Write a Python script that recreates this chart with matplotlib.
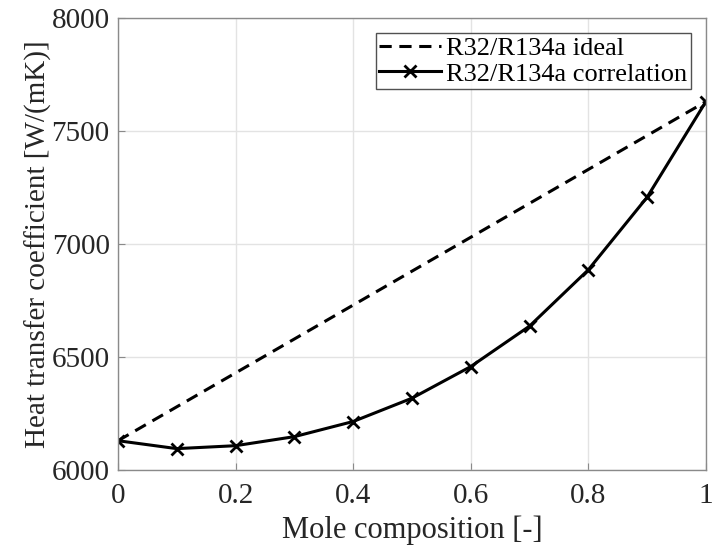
import numpy as np
import matplotlib.pyplot as plt

# mole fraction of R32
mole_frac = [0.0, 0.1, 0.2, 0.3, 0.4, 0.5, 0.6, 0.7, 0.8, 0.9, 1.0]

# heat transfer coefficient [W/(mK)]
htc_corr = [6130, 6095, 6108, 6148, 6215, 6318, 6458, 6637, 6886, 7207, 7630]
htc_ideal_ends = [6130, 7630]
ideal_x = [0.0, 1.0]

plt.rcParams['font.family'] = ['Liberation Serif', 'DejaVu Serif']

fig = plt.figure(figsize=(7.13, 5.46), dpi=100)
ax = fig.add_axes([0.1655, 0.139, 0.8245, 0.828])

ax.plot(ideal_x, htc_ideal_ends, '--', color='black', lw=2.2, dashes=(4, 2.5),
        label='R32/R134a ideal')
ax.plot(mole_frac, htc_corr, '-x', color='black', lw=2.2, ms=9, mew=2,
        label='R32/R134a correlation')

ax.set_xlim(0, 1)
ax.set_ylim(6000, 8000)
ax.set_xticks([0, 0.2, 0.4, 0.6, 0.8, 1])
ax.set_xticklabels(['0', '0.2', '0.4', '0.6', '0.8', '1'])
ax.set_yticks([6000, 6500, 7000, 7500, 8000])

ax.grid(True, color='#e3e3e3', lw=1)
ax.set_axisbelow(True)
for s in ax.spines.values():
    s.set_color('#8a8a8a')
    s.set_linewidth(1)
ax.tick_params(direction='in', length=5, color='#8a8a8a', labelsize=21,
               labelcolor='#262626')
ax.tick_params(axis='y', pad=6)
ax.tick_params(axis='x', pad=9)

ax.set_xlabel('Mole composition [-]', fontsize=22, color='#262626', labelpad=5)
ax.set_ylabel('Heat transfer coefficient [W/(mK)]', fontsize=21, color='#262626',
              labelpad=0)

leg = ax.legend(loc='upper right', fontsize=19, frameon=True, fancybox=False,
                edgecolor='#262626', handlelength=2.35, handletextpad=0.2,
                borderpad=0.12, labelspacing=0.08, borderaxespad=0.58)
leg.get_frame().set_linewidth(1)

fig.savefig('out.png', dpi=100)
